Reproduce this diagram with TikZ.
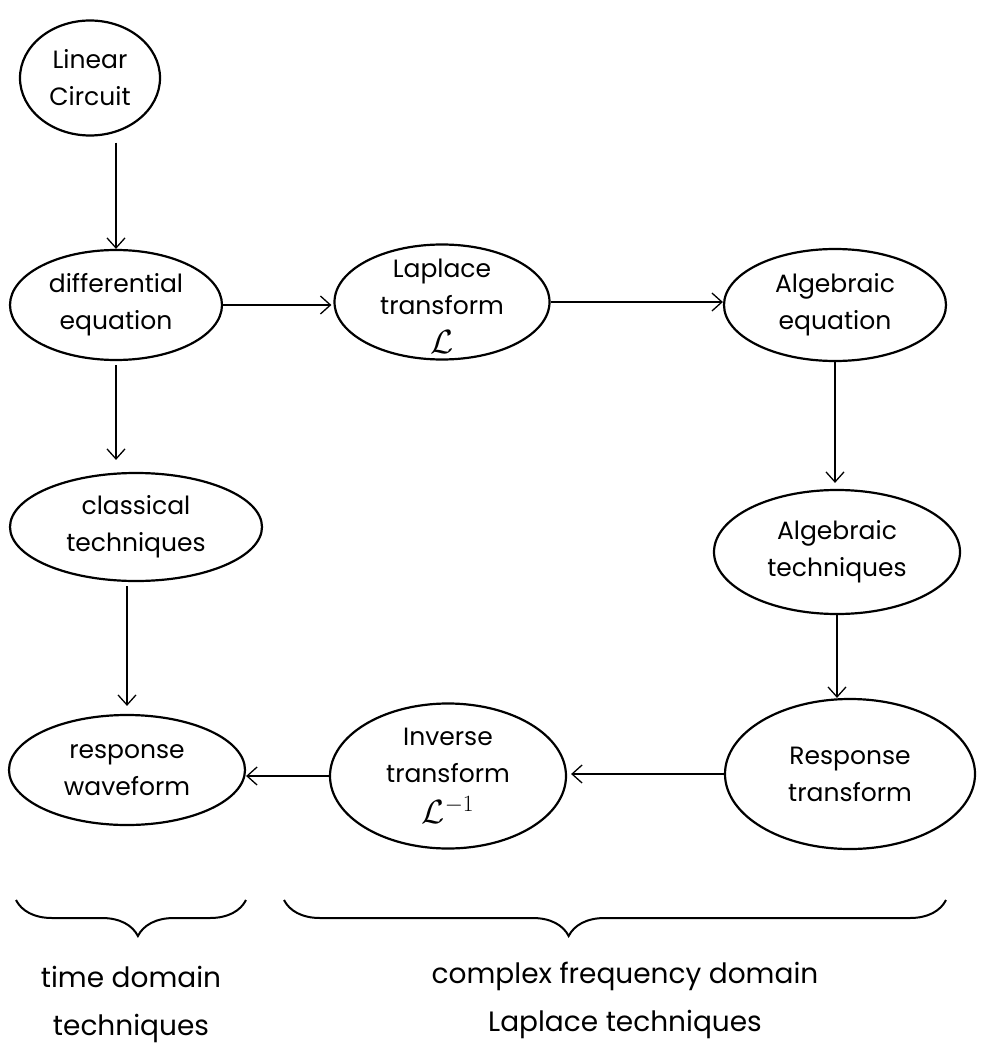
\documentclass[tikz,border=0pt]{standalone}
\usepackage{fontspec}
\setmainfont{Poppins}
\usetikzlibrary{shapes.geometric,arrows.meta,decorations.pathreplacing}
\newcommand{\bigL}[1]{\scalebox{1.35}{$\mathcal{L}#1$}}
\begin{document}
\begin{tikzpicture}[x=1pt,y=-1pt,
  bub/.style={draw, ellipse, line width=2.2pt, inner sep=0pt},
  txt/.style={align=center, font=\fontsize{25}{37}\selectfont},
  arr/.style={-{Straight Barb[length=10pt,width=18pt]}, line width=1.3pt},
  brc/.style={decorate, decoration={brace, mirror, amplitude=36pt}, line width=2pt},
  lbl/.style={align=center, font=\fontsize{28}{48}\selectfont}]
\useasboundingbox[fill=white] (0,0) rectangle (996,1059);
\node[bub, minimum width=140pt, minimum height=115pt, label={[txt]center:Linear\\Circuit}] (lc) at (90,78) {};
\node[bub, minimum width=212pt, minimum height=110pt, label={[txt]center:differential\\equation}] (de) at (116,305) {};
\node[bub, minimum width=215pt, minimum height=115pt, label={[txt, yshift=-4pt]center:Laplace\\transform\\[2pt]\bigL{}}] (lt) at (442,302) {};
\node[bub, minimum width=222pt, minimum height=112pt, label={[txt]center:Algebraic\\equation}] (ae) at (835,305) {};
\node[bub, minimum width=252pt, minimum height=108pt, label={[txt]center:classical\\techniques}] (ct) at (136,527) {};
\node[bub, minimum width=246pt, minimum height=124pt, label={[txt]center:Algebraic\\techniques}] (at) at (837,552) {};
\node[bub, minimum width=236pt, minimum height=110pt, label={[txt]center:response\\waveform}] (rw) at (127,770) {};
\node[bub, minimum width=236pt, minimum height=145pt, label={[txt]center:Inverse\\transform\\[4pt]\bigL{^{-1}}}] (it) at (448,776) {};
\node[bub, minimum width=250pt, minimum height=150pt, label={[txt]center:Response\\transform}] (rt) at (850,774) {};

\draw[arr] (de.north |- lc.south) ++(0,6) coordinate (a1) -- (de.north);
\draw[arr, shorten >=2pt] (de.east) -- (de.east -| lt.west);
\draw[arr] (lt.east) -- (lt.east -| ae.west);
\draw[arr, shorten <=4pt, shorten >=12pt] (de.south) -- (de.south |- ct.north);
\draw[arr, shorten <=4pt, shorten >=8pt] (rw.north |- ct.south) -- (rw.north);
\draw[arr, shorten >=6pt] (ae.south) -- (ae.south |- at.north);
\draw[arr] (at.south) -- (at.south |- rt.north);
\draw[arr, shorten >=4pt] (rt.west) -- (rt.west -| it.east);
\draw[arr] (it.west) -- (it.west -| rw.east);

\draw[brc, decoration={aspect=0.53}] (16,900) coordinate (b1) -- (246,900) coordinate (b2);
\draw[brc, decoration={aspect=0.43}] (284,900) coordinate (b3) -- (946,900) coordinate (b4);
\node[lbl] (tdl) at (131,1004) {time domain\\techniques};
\node[lbl] (cfl) at (625,1000) {complex frequency domain\\Laplace techniques};
\end{tikzpicture}
\end{document}
